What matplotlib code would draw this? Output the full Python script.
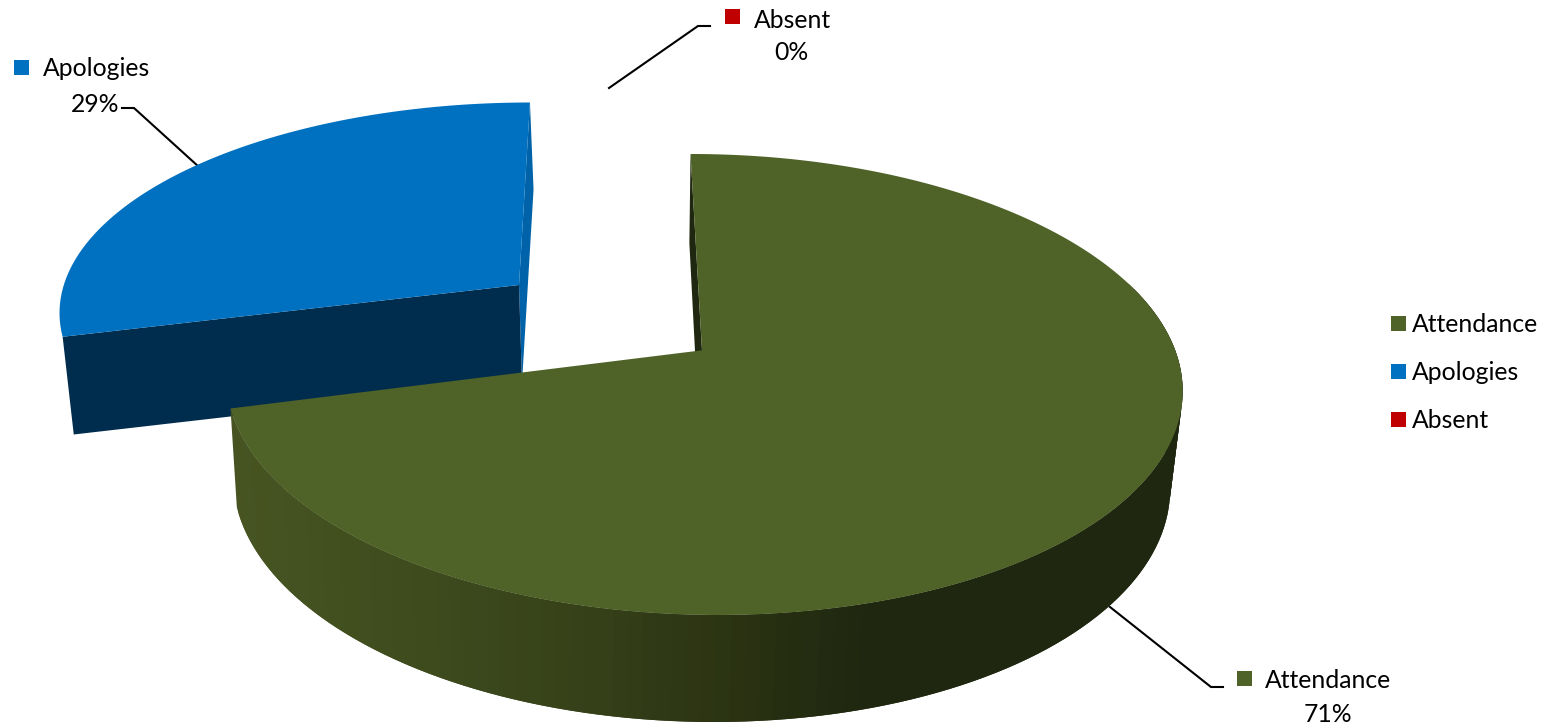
import numpy as np
import matplotlib
matplotlib.use("Agg")
import matplotlib.pyplot as plt
from matplotlib.colors import to_rgb

categories = ["Attendance", "Apologies", "Absent"]
values = [71, 29, 0]
pct_labels = ["71%", "29%", "0%"]

GREEN = "#4F6228"
BLUE = "#0070C0"
RED = "#C00000"
BLUE_FRONT = "#002C4E"
BLUE_SLIVER = "#0062A8"
GREEN_DARK = "#1F2710"

plt.rcParams["font.family"] = ["Lato", "DejaVu Sans"]
FS = 17.8

fig = plt.figure(figsize=(15.44, 7.28), dpi=100)
ax = fig.add_axes([0, 0, 1, 1])
ax.set_xlim(0, 1544)
ax.set_ylim(728, 0)
ax.axis("off")


def projector(cx, cy, rx, ry, s, apx, apy):
    """Perspective view of a unit disc: rim on a sheared ellipse, centre at (apx, apy)."""
    ny = (apy - cy) / ry
    nx = (apx - cx - s * (apy - cy)) / rx
    a = np.array([nx, ny])
    beta = np.hypot(nx, ny)
    e = a / beta
    gamma = np.sqrt(1 - beta ** 2)

    def rim(theta_deg):
        t = np.radians(np.asarray(theta_deg, dtype=float))
        p = np.stack([np.sin(t), -np.cos(t)], axis=-1)
        par = p @ e
        perp = p - par[..., None] * e
        den = 1 + beta * par
        q = ((par + beta) / den)[..., None] * e + perp * (gamma / den)[..., None]
        dy = q[..., 1] * ry
        return np.stack([cx + q[..., 0] * rx + s * dy, cy + dy], axis=-1)

    return rim, (apx, apy)


fractions = np.array(values, dtype=float) / sum(values)
ends = np.cumsum(fractions) * 360
att_end, apo_end = ends[0], ends[1]

# exploded slice
b_top, b_ap = projector(517.7, 307.5, 458, 205, -0.06, 519, 285)
b_bot, b_ap2 = projector(519, 393.5, 452, 204, -0.06, 522, 383)
arc = np.linspace(att_end, apo_end, 200)
ptop = b_top(arc)
pbot = b_bot(arc)
ax.fill(*zip(ptop[-1], pbot[-1], b_ap2, b_ap), color=BLUE_SLIVER, lw=0, zorder=2)
ax.fill(*zip(ptop[0], b_ap, b_ap2, pbot[0]), color=BLUE_FRONT, lw=0, zorder=3)
ax.fill(*zip(*np.vstack([[b_ap], ptop])), color=BLUE, lw=0, zorder=4)

# main slice
g_top, g_ap = projector(704.5, 384.5, 478, 230.5, 0.0586, 702, 350.3)
g_bot, g_ap2 = projector(701.5, 482.5, 468.5, 239.5, 0.052, 700, 447)

stops_x = [237, 400, 600, 740, 860]
stops_c = np.array([to_rgb(c) for c in ["#475422", "#3F4D1E", "#353F18", "#2A3212", GREEN_DARK]])

ax.fill(*zip(g_top(0.0), g_ap, g_ap2, g_bot(0.0)), color=GREEN_DARK, lw=0, zorder=5)
edges = np.linspace(att_end, 72, 120)
te, be = g_top(edges), g_bot(edges)
for i in range(len(edges) - 2):
    xm = (be[i, 0] + be[i + 1, 0]) / 2
    col = [np.interp(xm, stops_x, stops_c[:, k]) for k in range(3)]
    ax.fill(*zip(te[i], te[i + 1], te[i + 2], be[i + 2], be[i + 1], be[i]), color=col, lw=0, zorder=6)
arc = np.linspace(0, att_end, 500)
ax.fill(*zip(*np.vstack([[g_ap], g_top(arc)])), color=GREEN, lw=0, zorder=7)

# leader lines
leaders = {
    "Attendance": ([1110, 1211, 1223], [607, 687, 687]),
    "Apologies": ([199, 134, 122], [167, 108, 108]),
    "Absent": ([609, 698, 710], [88, 26, 26]),
}
for name, (lx, ly) in leaders.items():
    ax.plot(lx, ly, color="black", lw=1.5, zorder=1, solid_joinstyle="miter")


def swatch(x, yc, color):
    ax.fill([x, x + 15, x + 15, x], [yc - 7.5, yc - 7.5, yc + 7.5, yc + 7.5], color=color, lw=0, zorder=8)


colors = [GREEN, BLUE, RED]
# legend
for name, col, yc in zip(categories, colors, [323, 371, 419]):
    swatch(1391, yc, col)
    ax.text(1412, yc + 1, name, fontsize=FS, va="center", ha="left", color="black")

# data labels
label_pos = {
    "Attendance": (1237, 678, 1265, 1328, 714),
    "Apologies": (14, 67, 43, 95, 104),
    "Absent": (725, 16, 754, 791, 52),
}
for name, col, pct in zip(categories, colors, pct_labels):
    sx, sy, tx, px, py = label_pos[name]
    swatch(sx, sy, col)
    ax.text(tx, sy + (2 if name != "Absent" else 4), name, fontsize=FS, va="center", ha="left", color="black")
    ax.text(px, py, pct, fontsize=FS, va="center", ha="center", color="black")

fig.savefig("out.png", dpi=100)
